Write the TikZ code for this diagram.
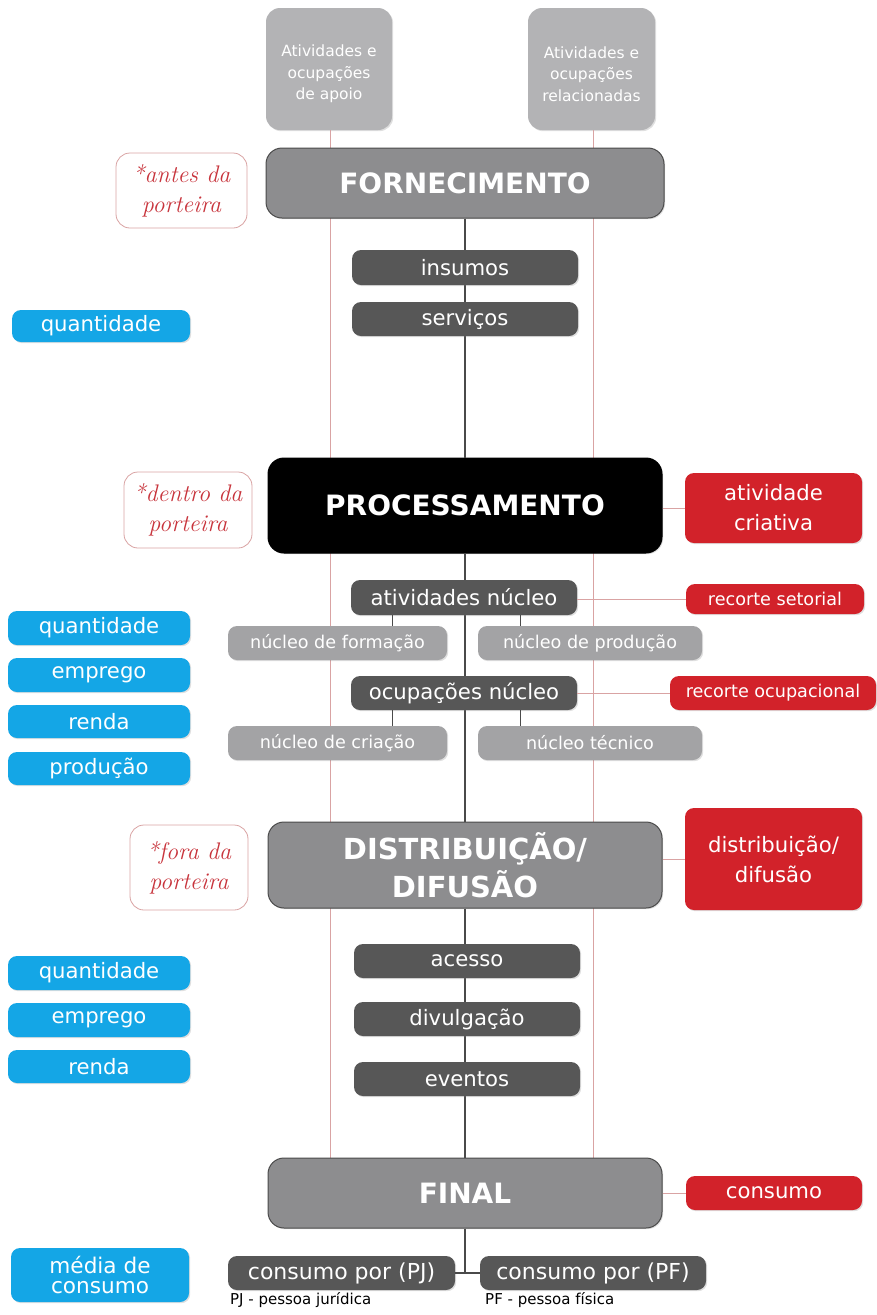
\documentclass[tikz,border=0pt]{standalone}
\usepackage{fontspec}
\setmainfont{DejaVu Sans}
\newfontfamily\hand{Latin Modern Roman}
\usetikzlibrary{shadows}
\definecolor{lgray}{HTML}{B3B3B5}
\definecolor{mgray}{HTML}{8D8D8F}
\definecolor{dgray}{HTML}{575757}
\definecolor{ngray}{HTML}{A3A3A5}
\definecolor{bblue}{HTML}{14A6E6}
\definecolor{rred}{HTML}{D2222A}
\definecolor{hred}{HTML}{C8343C}
\definecolor{lred}{HTML}{D9A3A3}
\definecolor{bord}{HTML}{4A4A4A}
\tikzset{
  base/.style={rounded corners=9pt, inner sep=0pt, align=center, text=white,
     drop shadow={opacity=0.25, shadow xshift=1.2pt, shadow yshift=-1.2pt}},
  topbox/.style={base, fill=lgray, rounded corners=14pt},
  toptext/.style={inner sep=0pt, align=center, text=white, font=\fontsize{15.5}{21.7}\selectfont},
  stage/.style={base, fill=mgray, draw=bord, line width=1pt, rounded corners=16pt, font=\fontsize{28}{38}\selectfont\bfseries},
  darkbox/.style={base, fill=dgray, font=\fontsize{21.2}{24}\selectfont},
  nucbox/.style={base, fill=ngray, font=\fontsize{17.6}{20}\selectfont},
  bluebox/.style={base, fill=bblue, font=\fontsize{21.2}{24}\selectfont},
  redbox/.style={base, fill=rred, font=\fontsize{17.6}{20}\selectfont},
  bigred/.style={redbox, font=\fontsize{21.2}{30}\selectfont},
  notebox/.style={rounded corners=14pt, draw=lred, line width=0.8pt, fill=white, inner sep=0pt,
     align=center, text=hred, font=\hand\itshape\fontsize{24}{30}\selectfont},
  redline/.style={draw=lred, line width=0.8pt},
  axis/.style={draw=bord, line width=1.3pt},
  small/.style={font=\fontsize{15}{16}\selectfont, text=black, inner sep=0pt, anchor=base west}
}
\begin{document}
\begin{tikzpicture}[x=1pt,y=-1pt]
\useasboundingbox (0,0) rectangle (877,1315);
% top boxes
\node[topbox, minimum width=126pt, minimum height=122pt] (apoio) at (329,69) {};
\node[toptext] (apoiot) at (329,74) {Atividades e\\ocupações\\de apoio};
\node[topbox, minimum width=127pt, minimum height=122pt] (relac) at (591.5,69) {};
\node[toptext] (relact) at (591.5,74) {Atividades e\\ocupações\\relacionadas};
\coordinate (apoioend) at (330,1160);
\coordinate (relacend) at (593,1160);
\draw[redline] (apoio.south -| apoioend) -- (apoioend);
\draw[redline] (relac.south -| relacend) -- (relacend);
% stages
\node[stage, minimum width=398pt, minimum height=70pt] (forn) at (465,183) {\raisebox{-2pt}{FORNECIMENTO}};
\node[stage, fill=black, draw=black, minimum width=394pt, minimum height=95pt] (proc) at (465,505.5) {PROCESSAMENTO};
\node[stage, minimum width=394pt, minimum height=86pt, font=\fontsize{29}{38}\selectfont\bfseries] (dist) at (465,865) {DISTRIBUIÇÃO/\\DIFUSÃO};
\node[stage, minimum width=394pt, minimum height=70pt] (final) at (465,1193) {FINAL};
% central axis
\draw[axis] (forn.south) -- (proc.north);
\draw[axis] (proc.south) -- (dist.north);
\draw[axis] (dist.south) -- (final.north);
% notes
\node[notebox, minimum width=131pt, minimum height=75pt] (antes) at (181.5,190.5) {*antes da\\porteira};
\node[notebox, minimum width=128pt, minimum height=76pt] (dentro) at (188,510) {*dentro da\\porteira};
\node[notebox, minimum width=118pt, minimum height=85pt] (fora) at (189,867.5) {*fora da\\porteira};
% fornecimento sub
\node[darkbox, minimum width=226pt, minimum height=35pt] (insumos) at (465,267.5) {insumos};
\node[darkbox, minimum width=226pt, minimum height=34pt] (servicos) at (465,319) {serviços};
\node[bluebox, minimum width=178pt, minimum height=32pt] (q1) at (101,326) {quantidade};
% processamento
\node[bigred, minimum width=177pt, minimum height=70pt] (criativa) at (773.5,508) {atividade\\criativa};
\draw[redline] (proc.east |- criativa.west) -- (criativa.west);
\node[darkbox, minimum width=226pt, minimum height=35pt] (atnuc) at (464,597.5) {atividades núcleo};
\node[redbox, minimum width=178pt, minimum height=30pt] (setorial) at (775,599) {recorte setorial};
\draw[redline] (atnuc.east |- setorial.west) -- (setorial.west);
\node[nucbox, minimum width=219pt, minimum height=34pt] (form) at (337.5,643) {núcleo de formação};
\node[nucbox, minimum width=224pt, minimum height=34pt] (prod) at (590,643) {núcleo de produção};
\draw[axis, line width=1pt] ([xshift=-72pt]atnuc.south) -- ([xshift=-72pt]atnuc.south |- form.north);
\draw[axis, line width=1pt] ([xshift=56pt]atnuc.south) -- ([xshift=56pt]atnuc.south |- prod.north);
\node[darkbox, minimum width=226pt, minimum height=34pt] (ocnuc) at (464,693) {ocupações núcleo};
\node[redbox, minimum width=206pt, minimum height=34pt] (ocup) at (773,693) {recorte ocupacional};
\draw[redline] (ocnuc.east) -- (ocup.west);
\node[nucbox, minimum width=219pt, minimum height=34pt] (criacao) at (337.5,743) {núcleo de criação};
\node[nucbox, minimum width=224pt, minimum height=34pt] (tecnico) at (590,743) {núcleo técnico};
\draw[axis, line width=1pt] ([xshift=-72pt]ocnuc.south) -- ([xshift=-72pt]ocnuc.south |- criacao.north);
\draw[axis, line width=1pt] ([xshift=56pt]ocnuc.south) -- ([xshift=56pt]ocnuc.south |- tecnico.north);
\node[bluebox, minimum width=182pt, minimum height=34pt] (q2) at (99,628) {quantidade};
\node[bluebox, minimum width=182pt, minimum height=34pt] (e2) at (99,675) {emprego};
\node[bluebox, minimum width=182pt, minimum height=33pt] (r2) at (99,721.5) {renda};
\node[bluebox, minimum width=182pt, minimum height=33pt] (p2) at (99,768.5) {produção};
% distribuicao
\node[bigred, minimum width=177pt, minimum height=102pt] (difu) at (773.5,859) {distribuição/\\difusão};
\draw[redline] (dist.east |- difu.west) -- (difu.west);
\node[darkbox, minimum width=226pt, minimum height=34pt] (acesso) at (467,961) {acesso};
\node[darkbox, minimum width=226pt, minimum height=34pt] (divulg) at (467,1019) {divulgação};
\node[darkbox, minimum width=226pt, minimum height=34pt] (eventos) at (467,1079) {eventos};
\node[bluebox, minimum width=182pt, minimum height=34pt] (q3) at (99,973) {quantidade};
\node[bluebox, minimum width=182pt, minimum height=34pt] (e3) at (99,1020) {emprego};
\node[bluebox, minimum width=182pt, minimum height=33pt] (r3) at (99,1066.5) {renda};
% final
\node[bigred, minimum width=176pt, minimum height=34pt] (consumo) at (774,1193) {consumo};
\draw[redline] (final.east) -- (consumo.west);
\node[darkbox, minimum width=227pt, minimum height=34pt, font=\fontsize{22}{24}\selectfont] (pj) at (341.5,1273) {consumo por (PJ)};
\node[darkbox, minimum width=226pt, minimum height=34pt, font=\fontsize{22}{24}\selectfont] (pf) at (593,1273) {consumo por (PF)};
\coordinate (junc) at (465,1273);
\draw[axis] (final.south) -- (junc);
\draw[axis] (pj.east) -- (pf.west);
\node[bluebox, minimum width=178pt, minimum height=54pt, font=\fontsize{21.6}{20}\selectfont] (media) at (100,1275) {média de\\consumo};
\node[small] (pjnote) at (230,1304) {PJ - pessoa jurídica};
\node[small] (pfnote) at (485,1304) {PF - pessoa física};
\end{tikzpicture}
\end{document}
